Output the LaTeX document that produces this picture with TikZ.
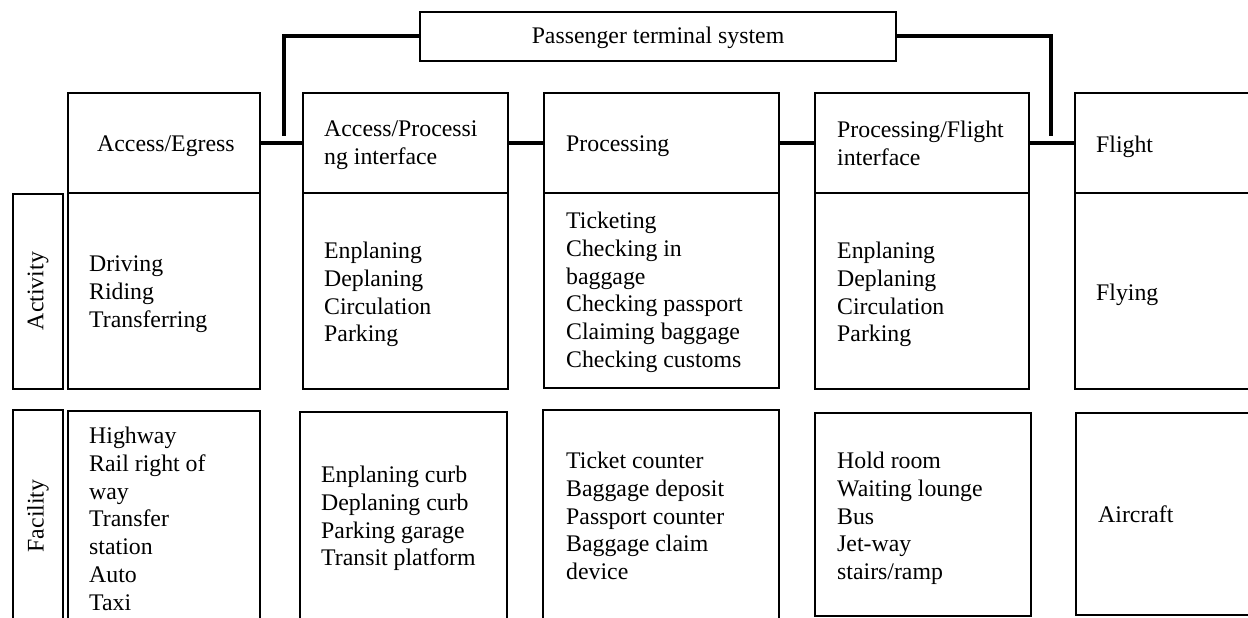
\documentclass[tikz,border=0pt]{standalone}
\usepackage{fontspec}
\setmainfont{Liberation Serif}
\usetikzlibrary{fit}
\begin{document}
\begin{tikzpicture}[x=1pt,y=-1pt,
  box/.style={draw, line width=1.8pt, inner sep=0pt},
  conn/.style={line width=4pt},
  txt/.style={anchor=north west, inner sep=0pt, align=left, font=\fontsize{23.8}{27.75}\selectfont},
  lbl/.style={inner sep=0pt, rotate=90, font=\fontsize{23.8}{27.75}\selectfont}]
\useasboundingbox (0,0) rectangle (1248,618);
\clip (0,0) rectangle (1248,618);

% top system box
\node[box, fit={(420,12) (896,61)}] (sys) {};
\node[inner sep=0pt, anchor=base, font=\fontsize{23.8}{27.75}\selectfont] (syst) at (658,44) {Passenger terminal system};

% row labels
\node[box, fit={(13,194) (63,389)}] (la) {};
\node[lbl] (lat) at (38,291) {Activity};
\node[box, fit={(13,410) (63,640)}] (lf) {};
\node[lbl] (lft) at (38,516) {Facility};

% headers
\node[box, fit={(68,93) (260,193)}] (h1) {};
\node[box, fit={(303,93) (508,193)}] (h2) {};
\node[box, fit={(544,93) (779,193)}] (h3) {};
\node[box, fit={(815,93) (1029,193)}] (h4) {};
\node[box, fit={(1075,93) (1270,193)}] (h5) {};

% activity boxes
\node[box, fit={(68,193) (260,389)}] (a1) {};
\node[box, fit={(303,193) (508,389)}] (a2) {};
\node[box, fit={(544,193) (779,388)}] (a3) {};
\node[box, fit={(815,193) (1029,389)}] (a4) {};
\node[box, fit={(1075,193) (1270,389)}] (a5) {};

% facility boxes
\node[box, fit={(68,411) (260,640)}] (f1) {};
\node[box, fit={(300,412) (507,640)}] (f2) {};
\node[box, fit={(543,410) (779,640)}] (f3) {};
\node[box, fit={(815,413) (1031,616)}] (f4) {};
\node[box, fit={(1076,413) (1270,615)}] (f5) {};

% header texts
\node[txt] (t1) at (97,136) {Access/Egress};
\node[txt] (t2) at (324,121) {Access/Processi\\ng interface};
\node[txt] (t3) at (566,136) {Processing};
\node[txt] (t4) at (837,121) {Processing/Flight\\interface};
\node[txt] (t5) at (1096,136) {Flight};

% activity texts
\node[txt] (b1) at (89,256) {Driving\\Riding\\Transferring};
\node[txt] (b2) at (324,242) {Enplaning\\Deplaning\\Circulation\\Parking};
\node[txt] (b3) at (566,212) {Ticketing\\Checking in\\baggage\\Checking passport\\Claiming baggage\\Checking customs};
\node[txt] (b4) at (837,242) {Enplaning\\Deplaning\\Circulation\\Parking};
\node[txt] (b5) at (1096,284) {Flying};

% facility texts
\node[txt] (c1) at (89,427) {Highway\\Rail right of\\way\\Transfer\\station\\Auto\\Taxi};
\node[txt] (c2) at (321,466) {Enplaning curb\\Deplaning curb\\Parking garage\\Transit platform};
\node[txt] (c3) at (566,452) {Ticket counter\\Baggage deposit\\Passport counter\\Baggage claim\\device};
\node[txt] (c4) at (837,452) {Hold room\\Waiting lounge\\Bus\\Jet-way\\stairs/ramp};
\node[txt] (c5) at (1098,506) {Aircraft};

% connectors
\coordinate (k1) at (284,136);
\coordinate (k2) at (1051,136);
\draw[conn] (sys.west) -| (k1);
\draw[conn] (sys.east) -| (k2);
\draw[conn] (h1.east) -- (h2.west);
\draw[conn] (h2.east) -- (h3.west);
\draw[conn] (h3.east) -- (h4.west);
\draw[conn] (h4.east) -- (h5.west);
\end{tikzpicture}
\end{document}
